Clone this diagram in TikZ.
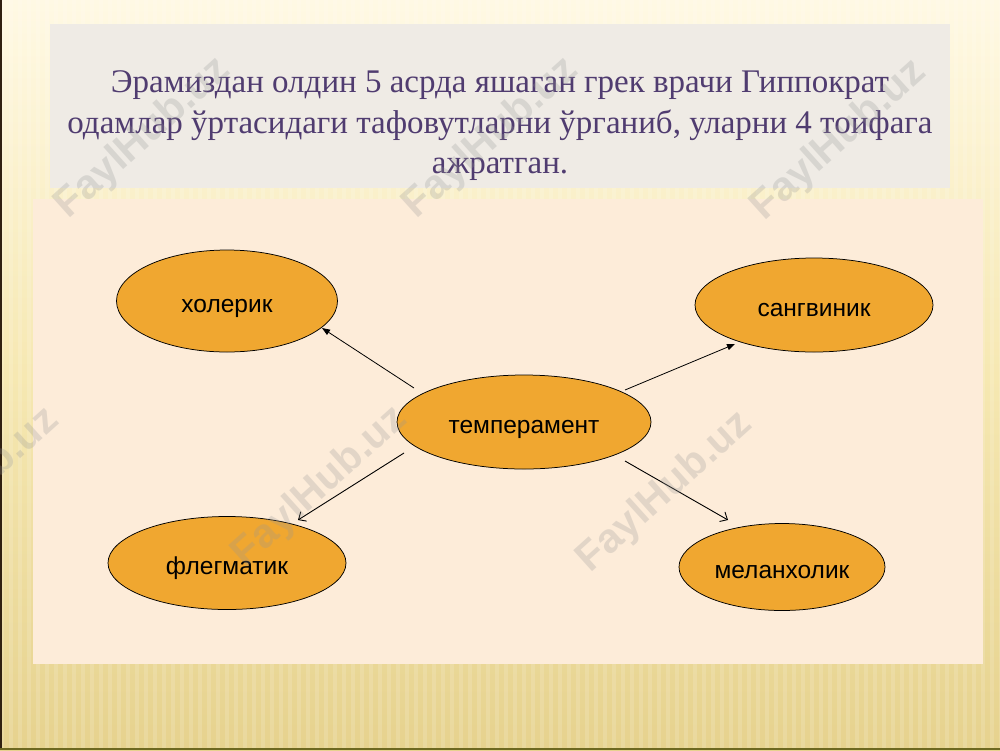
\documentclass[tikz,border=0pt]{standalone}
\usepackage{fontspec}
\setmainfont{Liberation Serif}
\newfontfamily\arialf{Liberation Sans}
\usetikzlibrary{shapes.geometric,arrows.meta}
\definecolor{bgtop}{RGB}{255,249,228}
\definecolor{bgmid}{RGB}{246,232,178}
\definecolor{bgbot}{RGB}{230,210,142}
\definecolor{graybox}{RGB}{239,235,229}
\definecolor{cream}{RGB}{253,236,217}
\definecolor{orangefill}{RGB}{240,167,48}
\definecolor{titlecol}{RGB}{80,60,112}
\definecolor{wm}{RGB}{150,150,150}
\begin{document}
\begin{tikzpicture}[x=1pt,y=-1pt,
  oval/.style={ellipse, draw=black, line width=0.75pt, fill=orangefill, inner sep=0pt,
    text height=22pt, text depth=0pt,
    font=\arialf\fontsize{24.5}{30}\selectfont},
  arrowfill/.style={-{Triangle[length=8pt,width=6pt]}, line width=0.8pt},
  arrowopen/.style={-{Straight Barb[length=6pt,width=11pt]}, line width=0.9pt},
  wmark/.style={text=wm, opacity=0.26, rotate=42, inner sep=0pt,
    font=\arialf\bfseries\fontsize{41}{41}\selectfont}]
\useasboundingbox (0,0) rectangle (1000,750);
% background
\shade[top color=bgtop, bottom color=bgbot, middle color=bgmid] (0,0) rectangle (1000,750);
\foreach \i in {0,9,...,1000} \fill[white, opacity=0.14] (\i,0) rectangle (\i+4,750);
\fill[black!75!brown] (0,0) rectangle (2,750);
\fill[olive!70!black] (0,748) rectangle (1000,750);
% boxes
\fill[graybox] (50,24) rectangle (950,188);
\fill[cream] (33,199) rectangle (983,664);
% title
\node[font=\fontsize{33}{40.5}\selectfont, text=titlecol, align=center] (title) at (500,126)
  {Эрамиздан олдин 5 асрда яшаган грек врачи Гиппократ\\
   одамлар ўртасидаги тафовутларни ўрганиб, уларни 4 тоифага\\
   ажратган.};
% ellipses
\node[oval, minimum width=221pt, minimum height=102pt] (xol) at (227,301) {холерик};
\node[oval, minimum width=238pt, minimum height=94pt] (san) at (814,305) {сангвиник};
\node[oval, minimum width=254pt, minimum height=94pt] (temp) at (524,422) {темперамент};
\node[oval, minimum width=238pt, minimum height=93pt] (fleg) at (227,563) {флегматик};
\node[oval, minimum width=206pt, minimum height=87pt] (mel) at (782,567) {меланхолик};
% arrows
\draw[arrowfill] ([shift={(-110,-34)}]temp.center) -- ([shift={(95,27)}]xol.center);
\draw[arrowfill] ([shift={(101,-32)}]temp.center) -- ([shift={(-79,39)}]san.center);
\draw[arrowopen] ([shift={(-120,31)}]temp.center) -- ([shift={(71,-43)}]fleg.center);
\draw[arrowopen] ([shift={(101,39)}]temp.center) -- ([shift={(-54,-47)}]mel.center);
% watermarks
\node[wmark] (w1) at (143,138) {FaylHub.uz};
\node[wmark] (w2) at (491,138) {FaylHub.uz};
\node[wmark] (w3) at (839,140) {FaylHub.uz};
\node[wmark] (w4) at (-28,488) {FaylHub.uz};
\node[wmark] (w5) at (320,487) {FaylHub.uz};
\node[wmark] (w6) at (665,492) {FaylHub.uz};
\end{tikzpicture}
\end{document}
